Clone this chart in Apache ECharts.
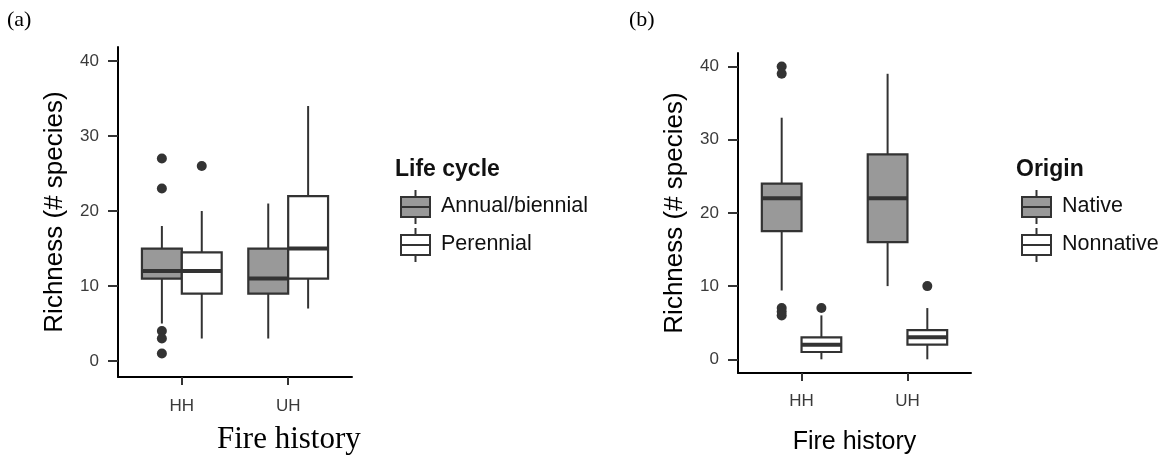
<!DOCTYPE html>
<html>
<head>
<meta charset="utf-8">
<script src="https://cdn.jsdelivr.net/npm/echarts@6/dist/echarts.min.js"></script>
<style>
  html, body { margin: 0; padding: 0; background: #ffffff; }
  #chart { width: 1162px; height: 459px; }
</style>
</head>
<body>
<div id="chart"></div>
<script>
// ---------------- data ----------------
const categories = ['HH', 'UH'];
const yTicks = [0, 10, 20, 30, 40];

// Panel (a): Life cycle  — each entry [min, Q1, median, Q3, max]
const annualBox = [[5, 11, 12, 15, 18], [3, 9, 11, 15, 21]];
const perennialBox = [[3, 9, 12, 14.5, 20], [7, 11, 15, 22, 34]];
const annualOutliers = [[27, 23, 4, 3, 1], []];
const perennialOutliers = [[26], []];

// Panel (b): Origin
const nativeBox = [[9.4, 17.5, 22, 24, 33], [10, 16, 22, 28, 39]];
const nonnativeBox = [[0, 1, 2, 3, 6], [0, 2, 3, 4, 7]];
const nativeOutliers = [[40, 39, 7, 6.5, 6], []];
const nonnativeOutliers = [[7], [10]];

// ---------------- styling constants ----------------
const DODGE = 0.1875;      // offset of dodged boxes in category units
const HALF = 0.1875;       // half box width
const FILL_A = '#999999';
const FILL_B = '#ffffff';
const EDGE = '#333333';
const SANS = 'Liberation Sans, Arial, sans-serif';
const SERIF = 'Liberation Serif, Times New Roman, serif';

function boxData(arr) {
  return arr.map((b, i) => [i + 1].concat(b));
}
function outlierData(arr, offset) {
  const out = [];
  arr.forEach((vals, i) => vals.forEach(v => out.push([i + 1 + offset, v])));
  return out;
}
function boxRender(offset, fill) {
  return function (params, api) {
    const x = api.value(0) + offset;
    const pMin = api.coord([x, api.value(1)]);
    const pQ1 = api.coord([x, api.value(2)]);
    const pMed = api.coord([x, api.value(3)]);
    const pQ3 = api.coord([x, api.value(4)]);
    const pMax = api.coord([x, api.value(5)]);
    const hw = api.size([HALF, 0])[0];
    const cx = pMed[0];
    const lineStyle = { stroke: EDGE, lineWidth: 2 };
    return {
      type: 'group',
      children: [
        { type: 'line', shape: { x1: cx, y1: pMax[1], x2: cx, y2: pQ3[1] }, style: lineStyle },
        { type: 'line', shape: { x1: cx, y1: pQ1[1], x2: cx, y2: pMin[1] }, style: lineStyle },
        { type: 'rect', shape: { x: cx - hw, y: pQ3[1], width: 2 * hw, height: pQ1[1] - pQ3[1] },
          style: { fill: fill, stroke: EDGE, lineWidth: 2.2 } },
        { type: 'line', shape: { x1: cx - hw, y1: pMed[1], x2: cx + hw, y2: pMed[1] },
          style: { stroke: EDGE, lineWidth: 4 } }
      ]
    };
  };
}

function xAxisDef(gridIndex, name, labelMargin) {
  return {
    type: 'value', gridIndex: gridIndex, min: 0.4, max: 2.6,
    name: name, nameLocation: 'middle', nameGap: 57,
    nameTextStyle: { fontFamily: SANS, fontSize: 25, color: '#000' },
    splitLine: { show: false },
    axisLine: { show: true, onZero: false, lineStyle: { color: '#000', width: 2 } },
    axisTick: { show: true, length: 8, customValues: [1, 2], lineStyle: { color: '#333', width: 2 } },
    axisLabel: { customValues: [1, 2], margin: labelMargin, fontFamily: SANS, fontSize: 17, color: '#3a3a3a',
                 formatter: v => categories[Math.round(v) - 1] }
  };
}
function yAxisDef(gridIndex, min, max) {
  return {
    type: 'value', gridIndex: gridIndex, min: min, max: max,
    name: 'Richness (# species)', nameLocation: 'middle', nameGap: 50,
    nameTextStyle: { fontFamily: SANS, fontSize: 26, color: '#000' },
    splitLine: { show: false },
    axisLine: { show: true, onZero: false, lineStyle: { color: '#000', width: 2 } },
    axisTick: { show: true, length: 10, customValues: yTicks, lineStyle: { color: '#333', width: 2 } },
    axisLabel: { customValues: yTicks, margin: 19, fontFamily: SANS, fontSize: 17, color: '#3a3a3a' }
  };
}

function legendGroup(left, title, labels, fills) {
  const els = [];
  els.push({ type: 'text', left: left, top: 158,
    style: { text: title, font: 'bold 23px ' + SANS, fill: '#111' } });
  const keyX = left + 5;
  const boxTops = [197, 235];
  labels.forEach((lab, i) => {
    const t = boxTops[i];
    els.push({ type: 'line', shape: { x1: keyX + 15.5, y1: t - 7, x2: keyX + 15.5, y2: t + 27 },
      style: { stroke: EDGE, lineWidth: 2 } });
    els.push({ type: 'rect', shape: { x: keyX + 1, y: t, width: 29, height: 20 },
      style: { fill: fills[i], stroke: EDGE, lineWidth: 2 } });
    els.push({ type: 'line', shape: { x1: keyX + 1, y1: t + 10, x2: keyX + 30, y2: t + 10 },
      style: { stroke: EDGE, lineWidth: 2 } });
    els.push({ type: 'text', left: left + 46, top: t - 2,
      style: { text: lab, font: '21.5px ' + SANS, fill: '#111' } });
  });
  return els;
}

const option = {
  animation: false,
  backgroundColor: '#ffffff',
  grid: [
    { left: 118, right: 810, top: 47, bottom: 82, containLabel: false, outerBoundsMode: 'none' },
    { left: 738, right: 191, top: 53, bottom: 86, containLabel: false, outerBoundsMode: 'none' }
  ],
  xAxis: [
    xAxisDef(0, '', 21),
    xAxisDef(1, 'Fire history', 20)
  ],
  yAxis: [
    yAxisDef(0, -2.13, 41.87),
    yAxisDef(1, -1.87, 41.84)
  ],
  series: [
    { type: 'custom', name: 'Annual/biennial', xAxisIndex: 0, yAxisIndex: 0,
      renderItem: boxRender(-DODGE, FILL_A), data: boxData(annualBox), encode: { x: 0, y: [1, 2, 3, 4, 5] } },
    { type: 'custom', name: 'Perennial', xAxisIndex: 0, yAxisIndex: 0,
      renderItem: boxRender(DODGE, FILL_B), data: boxData(perennialBox), encode: { x: 0, y: [1, 2, 3, 4, 5] } },
    { type: 'scatter', xAxisIndex: 0, yAxisIndex: 0, symbolSize: 10,
      itemStyle: { color: EDGE, opacity: 1 }, data: outlierData(annualOutliers, -DODGE) },
    { type: 'scatter', xAxisIndex: 0, yAxisIndex: 0, symbolSize: 10,
      itemStyle: { color: EDGE, opacity: 1 }, data: outlierData(perennialOutliers, DODGE) },

    { type: 'custom', name: 'Native', xAxisIndex: 1, yAxisIndex: 1,
      renderItem: boxRender(-DODGE, FILL_A), data: boxData(nativeBox), encode: { x: 0, y: [1, 2, 3, 4, 5] } },
    { type: 'custom', name: 'Nonnative', xAxisIndex: 1, yAxisIndex: 1,
      renderItem: boxRender(DODGE, FILL_B), data: boxData(nonnativeBox), encode: { x: 0, y: [1, 2, 3, 4, 5] } },
    { type: 'scatter', xAxisIndex: 1, yAxisIndex: 1, symbolSize: 10,
      itemStyle: { color: EDGE, opacity: 1 }, data: outlierData(nativeOutliers, -DODGE) },
    { type: 'scatter', xAxisIndex: 1, yAxisIndex: 1, symbolSize: 10,
      itemStyle: { color: EDGE, opacity: 1 }, data: outlierData(nonnativeOutliers, DODGE) }
  ],
  graphic: [
    { type: 'text', left: 7, top: 9, style: { text: '(a)', font: '22px ' + SERIF, fill: '#000' } },
    { type: 'text', left: 629, top: 9, style: { text: '(b)', font: '22px ' + SERIF, fill: '#000' } },
    { type: 'text', left: 217, top: 424, style: { text: 'Fire history', font: '31px ' + SERIF, fill: '#000' } }
  ].concat(
    legendGroup(395, 'Life cycle', ['Annual/biennial', 'Perennial'], [FILL_A, FILL_B]),
    legendGroup(1016, 'Origin', ['Native', 'Nonnative'], [FILL_A, FILL_B])
  )
};

const chart = echarts.init(document.getElementById('chart'), null, { renderer: 'canvas' });
chart.setOption(option);
</script>
</body>
</html>
